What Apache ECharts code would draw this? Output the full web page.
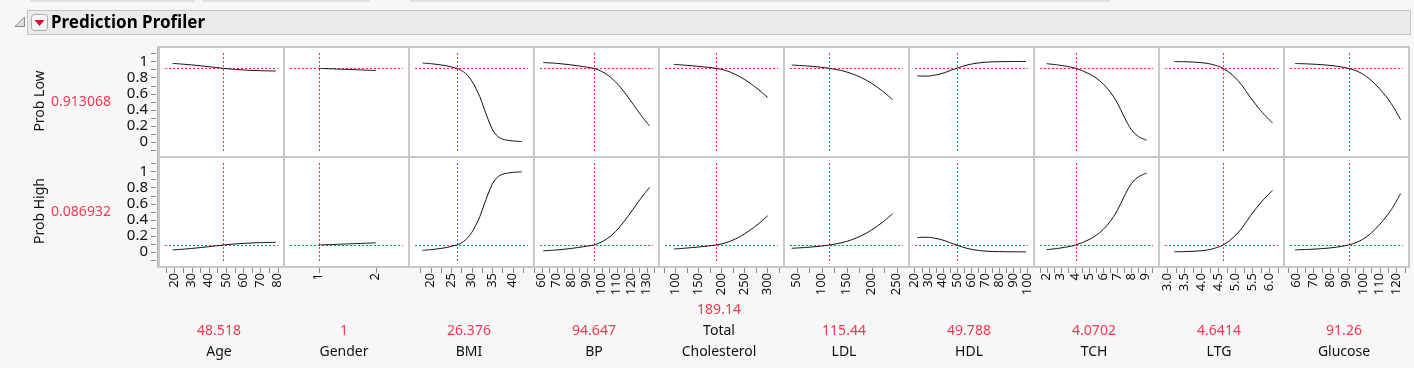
<!DOCTYPE html>
<html><head><meta charset="utf-8">
<script src="https://cdn.jsdelivr.net/npm/echarts@6/dist/echarts.min.js"></script>
<style>html,body{margin:0;padding:0;background:#f7f7f7;}#c{width:1414px;height:368px;}</style>
</head><body><div id="c"></div>
<script>
// ---------------- data ----------------
const factors = ['Age','Gender','BMI','BP','Total\nCholesterol','LDL','HDL','TCH','LTG','Glucose'];
const currentValues = [48.518, 1, 26.376, 94.647, 189.14, 115.44, 49.788, 4.0702, 4.6414, 91.26];
const currentLabels = ['48.518','1','26.376','94.647','189.14','115.44','49.788','4.0702','4.6414','91.26'];
const responses = ['Prob Low','Prob High'];
const predicted = [0.913068, 0.086932];
const predictedLabels = ['0.913068','0.086932'];

const axisMin = [11.1, 0.391, 14.71, 54.9, 64.6, 24.6, 16.1, 1.1, 2.75, 52.35];
const axisMax = [83.65, 2.584, 45.2, 138.2, 336.3, 274.6, 104.75, 9.965, 6.437, 127.65];

const ageTicks = [15,20,25,30,35,40,45,50,55,60,65,70,75,80];
const ageLabels = [20,30,40,50,60,70,80];
const genderTicks = [1,2];
const genderLabels = [1,2];
const bmiTicks = [17.5,20,22.5,25,27.5,30,32.5,35,37.5,40,42.5];
const bmiLabels = [20,25,30,35,40];
const bpTicks = [55,60,65,70,75,80,85,90,95,100,105,110,115,120,125,130,135];
const bpLabels = [60,70,80,90,100,110,120,130];
const cholTicks = [75,100,125,150,175,200,225,250,275,300,325];
const cholLabels = [100,150,200,250,300];
const ldlTicks = [50,75,100,125,150,175,200,225,250];
const ldlLabels = [50,100,150,200,250];
const hdlTicks = [20,25,30,35,40,45,50,55,60,65,70,75,80,85,90,95,100];
const hdlLabels = [20,30,40,50,60,70,80,90,100];
const tchTicks = [1.5,2,2.5,3,3.5,4,4.5,5,5.5,6,6.5,7,7.5,8,8.5,9,9.5];
const tchLabels = [2,3,4,5,6,7,8,9];
const ltgTicks = [3,3.25,3.5,3.75,4,4.25,4.5,4.75,5,5.25,5.5,5.75,6,6.25];
const ltgLabels = [3,3.5,4,4.5,5,5.5,6];
const gluTicks = [55,60,65,70,75,80,85,90,95,100,105,110,115,120,125];
const gluLabels = [60,70,80,90,100,110,120];
const yTicks = [-0.1,0,0.1,0.2,0.3,0.4,0.5,0.6,0.7,0.8,0.9,1,1.1];
const yLabels = [0,0.2,0.4,0.6,0.8,1];

// profile curves (x, Prob Low, Prob High)
const ageX = [19, 30, 40, 48.518, 55, 62, 70, 79];
const ageLow = [0.975, 0.956, 0.934, 0.913, 0.901, 0.891, 0.884, 0.88];
const ageHigh = [0.025, 0.044, 0.066, 0.087, 0.099, 0.109, 0.116, 0.12];
const genderX = [1, 1.5, 2];
const genderLow = [0.913, 0.9, 0.886];
const genderHigh = [0.087, 0.1, 0.114];
const bmiX = [18, 20, 22, 24, 25, 26.376, 27, 28, 29, 30, 31, 32, 33, 34, 35, 36, 37, 38, 39, 40, 42.2];
const bmiLow = [0.979, 0.971, 0.959, 0.943, 0.931, 0.913, 0.9, 0.87, 0.825, 0.759, 0.668, 0.56, 0.418, 0.281, 0.161, 0.087, 0.047, 0.029, 0.02, 0.013, 0.006];
const bmiHigh = [0.021, 0.029, 0.041, 0.057, 0.069, 0.087, 0.1, 0.13, 0.175, 0.241, 0.332, 0.44, 0.582, 0.719, 0.839, 0.913, 0.953, 0.971, 0.98, 0.987, 0.994];
const bpX = [61, 70, 80, 88, 94.647, 100, 106, 112, 118, 124, 128, 132];
const bpLow = [0.985, 0.975, 0.955, 0.934, 0.913, 0.875, 0.802, 0.69, 0.545, 0.389, 0.289, 0.198];
const bpHigh = [0.015, 0.025, 0.045, 0.066, 0.087, 0.125, 0.198, 0.31, 0.455, 0.611, 0.711, 0.802];
const cholX = [97, 120, 150, 189.14, 210, 230, 250, 270, 290, 301];
const cholLow = [0.963, 0.953, 0.938, 0.913, 0.886, 0.84, 0.777, 0.699, 0.606, 0.55];
const cholHigh = [0.037, 0.047, 0.062, 0.087, 0.114, 0.16, 0.223, 0.301, 0.394, 0.45];
const ldlX = [40, 70, 100, 115.44, 140, 160, 180, 200, 220, 242];
const ldlLow = [0.954, 0.943, 0.926, 0.913, 0.885, 0.848, 0.796, 0.727, 0.639, 0.525];
const ldlHigh = [0.046, 0.057, 0.074, 0.087, 0.115, 0.152, 0.204, 0.273, 0.361, 0.475];
const hdlX = [22, 26, 30, 34, 38, 42, 46, 49.788, 54, 58, 62, 66, 70, 76, 85, 99];
const hdlLow = [0.822, 0.817, 0.818, 0.828, 0.842, 0.863, 0.89, 0.913, 0.938, 0.958, 0.972, 0.982, 0.989, 0.994, 0.997, 0.998];
const hdlHigh = [0.178, 0.183, 0.182, 0.172, 0.158, 0.137, 0.11, 0.087, 0.062, 0.042, 0.028, 0.018, 0.011, 0.006, 0.003, 0.002];
const tchX = [2, 3, 4.0702, 5, 5.5, 6, 6.5, 7, 7.5, 8, 8.5, 9.09];
const tchLow = [0.971, 0.95, 0.913, 0.846, 0.794, 0.721, 0.622, 0.488, 0.31, 0.154, 0.069, 0.022];
const tchHigh = [0.029, 0.05, 0.087, 0.154, 0.206, 0.279, 0.378, 0.512, 0.69, 0.846, 0.931, 0.978];
const ltgX = [3.2, 3.6, 4.0, 4.3, 4.6414, 4.95, 5.2, 5.45, 5.75, 6.1];
const ltgLow = [0.997, 0.994, 0.984, 0.964, 0.913, 0.818, 0.701, 0.55, 0.389, 0.235];
const ltgHigh = [0.003, 0.006, 0.016, 0.036, 0.087, 0.182, 0.299, 0.45, 0.611, 0.765];
const gluX = [59, 68, 76, 84, 91.26, 97, 102, 107, 112, 117, 122.6];
const gluLow = [0.973, 0.967, 0.957, 0.94, 0.913, 0.873, 0.813, 0.723, 0.611, 0.475, 0.277];
const gluHigh = [0.027, 0.033, 0.043, 0.06, 0.087, 0.127, 0.187, 0.277, 0.389, 0.525, 0.723];

// ---------------- assembly ----------------
const tickSets = [ageTicks, genderTicks, bmiTicks, bpTicks, cholTicks, ldlTicks, hdlTicks, tchTicks, ltgTicks, gluTicks];
const labelSets = [ageLabels, genderLabels, bmiLabels, bpLabels, cholLabels, ldlLabels, hdlLabels, tchLabels, ltgLabels, gluLabels];
const curveX = [ageX, genderX, bmiX, bpX, cholX, ldlX, hdlX, tchX, ltgX, gluX];
const curveY = [
  [ageLow, genderLow, bmiLow, bpLow, cholLow, ldlLow, hdlLow, tchLow, ltgLow, gluLow],
  [ageHigh, genderHigh, bmiHigh, bpHigh, cholHigh, ldlHigh, hdlHigh, tchHigh, ltgHigh, gluHigh]
];

const RED = '#ff2a48';
const RED_TXT = '#f03a52';
const TICK = '#8c8c8c';
const FONT = '"Noto Sans", "Open Sans", sans-serif';
const PANEL_L = 159, PANEL_W = 125, PANEL_T = 47, PANEL_H = 110;
const Y_MIN = -0.186, Y_MAX = 1.178;

const grids = [], xAxes = [], yAxes = [], series = [];
for (let r = 0; r < 2; r++) {
  for (let c = 0; c < 10; c++) {
    const k = r * 10 + c;
    grids.push({left: PANEL_L + PANEL_W * c, top: PANEL_T + PANEL_H * r, width: PANEL_W, height: PANEL_H,
      show: true, backgroundColor: '#ffffff', borderColor: '#c8c8c8', borderWidth: 2, containLabel: false});
    const bottom = r === 1;
    xAxes.push({type: 'value', gridIndex: k, min: axisMin[c], max: axisMax[c], position: 'bottom',
      axisLine: {show: false, onZero: false}, splitLine: {show: false},
      axisTick: {show: false},
      axisLabel: {show: bottom, customValues: labelSets[c], rotate: 90, margin: 6, fontSize: 13,
        fontFamily: FONT, color: '#111',
        formatter: v => c === 8 ? Number(v).toFixed(1) : String(v)}});
    const first = c === 0;
    yAxes.push({type: 'value', gridIndex: k, min: Y_MIN, max: Y_MAX, offset: 2, position: 'left',
      splitLine: {show: false},
      axisLine: {show: first, onZero: false, lineStyle: {color: '#b4b4b4', width: 1}},
      axisTick: {show: false},
      axisLabel: {show: first, customValues: yLabels, margin: 9, fontSize: 15, fontFamily: FONT, color: '#111',
        formatter: v => String(Math.round(v * 10) / 10)}});
    series.push({type: 'line', xAxisIndex: k, yAxisIndex: k, silent: true, showSymbol: false,
      smooth: 0.35,
      lineStyle: {color: '#111', width: 1},
      data: curveX[c].map((x, j) => [x, curveY[r][c][j]]), z: 3});
    series.push({type: 'custom', xAxisIndex: k, yAxisIndex: k, silent: true, z: 2,
      data: [[currentValues[c], predicted[r]]],
      renderItem: (params, api) => {
        const p = api.coord([api.value(0), api.value(1)]);
        const cs = params.coordSys;
        const px = Math.round(p[0]) + 0.5, py = Math.round(p[1]) + 0.5;
        const ins = 6;
        const st = {stroke: RED, fill: null, lineWidth: 1, lineDash: [2, 2]};
        return {type: 'group', children: [
          {type: 'line', shape: {x1: cs.x + ins, y1: py, x2: cs.x + cs.width - ins, y2: py}, style: st},
          {type: 'line', shape: {x1: px, y1: cs.y + ins, x2: px, y2: cs.y + cs.height - ins}, style: st}
        ]};
      }});
  }
}

// dedicated thin strip grids that carry the tick marks (drawn inside their own area)
for (let c = 0; c < 10; c++) {
  const g = grids.length;
  grids.push({left: PANEL_L + PANEL_W * c, top: PANEL_T + PANEL_H * 2 + 1, width: PANEL_W, height: 5, show: false});
  xAxes.push({type: 'value', gridIndex: g, min: axisMin[c], max: axisMax[c], show: false});
  yAxes.push({type: 'value', gridIndex: g, min: 0, max: 1, show: false});
  series.push({type: 'custom', xAxisIndex: g, yAxisIndex: g, silent: true, z: 5,
    data: tickSets[c].map(v => [v, 1]),
    renderItem: (params, api) => {
      const p = api.coord([api.value(0), api.value(1)]);
      const cs = params.coordSys;
      return {type: 'rect', shape: {x: Math.round(p[0]), y: cs.y, width: 1, height: cs.height},
        style: {fill: TICK}};
    }});
}
for (let r = 0; r < 2; r++) {
  const g = grids.length;
  grids.push({left: PANEL_L - 8, top: PANEL_T + PANEL_H * r, width: 5, height: PANEL_H, show: false});
  xAxes.push({type: 'value', gridIndex: g, min: 0, max: 1, show: false});
  yAxes.push({type: 'value', gridIndex: g, min: Y_MIN, max: Y_MAX, show: false});
  series.push({type: 'custom', xAxisIndex: g, yAxisIndex: g, silent: true, z: 5,
    data: yTicks.map(v => [0, v]),
    renderItem: (params, api) => {
      const p = api.coord([api.value(0), api.value(1)]);
      const cs = params.coordSys;
      return {type: 'rect', shape: {x: cs.x, y: Math.round(p[1]), width: cs.width, height: 1},
        style: {fill: TICK}};
    }});
}

// texts and header
const graphic = [
  {type: 'rect', shape: {x: 30, y: 0, width: 165, height: 2}, style: {fill: '#e0e0e0'}},
  {type: 'rect', shape: {x: 203, y: 0, width: 167, height: 2}, style: {fill: '#e0e0e0'}},
  {type: 'rect', shape: {x: 410, y: 0, width: 700, height: 2}, style: {fill: '#e0e0e0'}},
  {type: 'rect', shape: {x: 27.5, y: 10.5, width: 1383, height: 24}, style: {fill: '#ebebeb', stroke: '#c4c4c4', lineWidth: 1}},
  {type: 'polygon', shape: {points: [[24.5, 17], [24.5, 26.5], [15, 26.5]]}, style: {fill: '#dedede', stroke: '#8c8c8c', lineWidth: 1}},
  {type: 'rect', shape: {x: 31.5, y: 14.5, width: 16, height: 16, r: 3}, style: {fill: '#f6f6f6', stroke: '#a8a8a8', lineWidth: 1}},
  {type: 'polygon', shape: {points: [[34.5, 20], [44.5, 20], [39.5, 26]]}, style: {fill: '#d0142a'}},
  {type: 'text', x: 51, y: 23, style: {text: 'Prediction Profiler', font: 'bold 17px ' + FONT, fill: '#000', textAlign: 'left', textVerticalAlign: 'middle'}}
];
for (let r = 0; r < 2; r++) {
  const cy = PANEL_T + PANEL_H * r + 54;
  graphic.push({type: 'text', x: 40, y: cy, rotation: Math.PI / 2,
    style: {text: responses[r], font: '14px ' + FONT, fill: '#111', textAlign: 'center', textVerticalAlign: 'middle'}});
  graphic.push({type: 'text', x: 81, y: cy + 1,
    style: {text: predictedLabels[r], font: '14px ' + FONT, fill: RED_TXT, textAlign: 'center', textVerticalAlign: 'middle'}});
}
for (let c = 0; c < 10; c++) {
  const cx = PANEL_L + PANEL_W * c + 60;
  const lines = factors[c].split('\n');
  const n = lines.length;
  graphic.push({type: 'text', x: cx, y: 331 - 20.5 * (n - 1),
    style: {text: currentLabels[c], font: '14px ' + FONT, fill: RED_TXT, textAlign: 'center', textVerticalAlign: 'middle'}});
  lines.forEach((ln, j) => {
    graphic.push({type: 'text', x: cx, y: 352 - 20.5 * (n - 1 - j),
      style: {text: ln, font: '14px ' + FONT, fill: '#111', textAlign: 'center', textVerticalAlign: 'middle'}});
  });
}

const chart = echarts.init(document.getElementById('c'), null, {renderer: 'canvas'});
chart.setOption({animation: false, backgroundColor: '#f7f7f7', grid: grids, xAxis: xAxes, yAxis: yAxes, series, graphic});
</script></body></html>
